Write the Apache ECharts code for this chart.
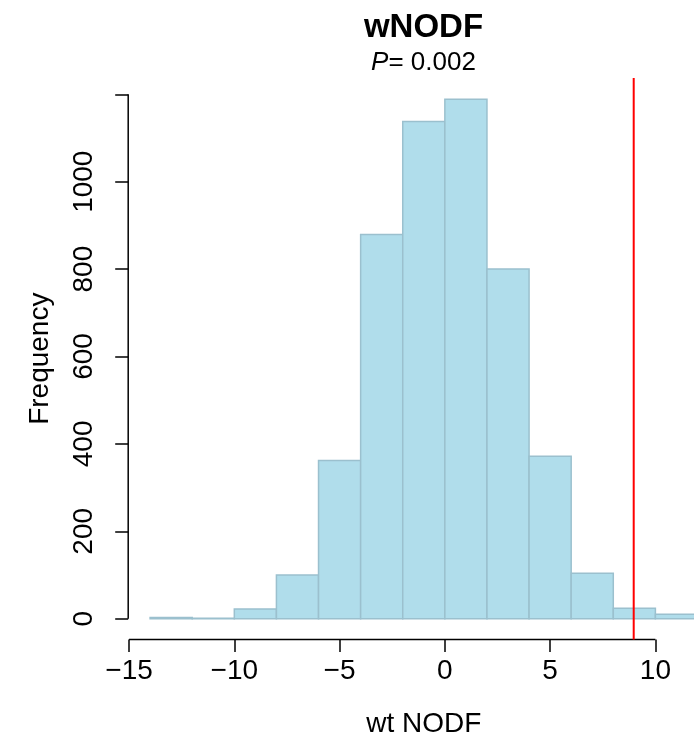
<!DOCTYPE html>
<html>
<head>
<meta charset="utf-8">
<script src="https://cdn.jsdelivr.net/npm/echarts@6/dist/echarts.min.js"></script>
<style>
html,body{margin:0;padding:0;background:#fff;}
#chart{width:694px;height:742px;}
</style>
</head>
<body>
<div id="chart"></div>
<script>
// ---- data ----
const titleText = 'wNODF';
const pValueText = '0.002';
const xTitle = 'wt NODF';
const yTitle = 'Frequency';
const binBreaks = [-14, -12, -10, -8, -6, -4, -2, 0, 2, 4, 6, 8, 10, 12];
const binCounts = [3, 1, 22, 100, 362, 879, 1138, 1189, 800, 372, 104, 24, 10];
const observedValue = 8.97;
const xTicks = [-15, -10, -5, 0, 5, 10];
const yTicks = [0, 200, 400, 600, 800, 1000, 1200];
const yTickLabels = [0, 200, 400, 600, 800, 1000];

// R-style axis ranges (4% extension)
const xMin = -15.04, xMax = 13.04;
const yMin = -47.6, yMax = 1237.6;

const FONT = 'Liberation Sans, Arial, Helvetica, sans-serif';
const chart = echarts.init(document.getElementById('chart'), null, {renderer: 'canvas'});

const histData = binCounts.map((c, i) => [binBreaks[i], binBreaks[i + 1], c]);

const option = {
  animation: false,
  backgroundColor: '#ffffff',
  graphic: [
    {type: 'text', style: {text: titleText, x: 423.5, y: 28, align: 'center', verticalAlign: 'middle',
      font: 'bold 33px ' + FONT, fill: '#000'}},
    {type: 'text', style: {text: '{i|P}{n|= ' + pValueText + '}', x: 423.5, y: 63, align: 'center', verticalAlign: 'middle',
      rich: {i: {fontStyle: 'italic', fontSize: 26, fontFamily: FONT, fill: '#000'}, n: {fontSize: 26, fontFamily: FONT, fill: '#000'}}}}
  ],
  grid: {left: 128.2, top: 77.9, width: 591.2, height: 561.6, containLabel: false, outerBoundsMode: 'none'},
  xAxis: {
    type: 'value', min: xMin, max: xMax,
    axisLine: {show: false, onZero: false},
    splitLine: {show: false},
    axisTick: {show: true, customValues: xTicks, length: 12.5, lineStyle: {color: '#000', width: 1.5}},
    axisLabel: {show: true, customValues: xTicks, margin: 18, fontSize: 28, fontFamily: FONT, color: '#000',
      formatter: v => String(v).replace('-', '\u2212')},
    name: xTitle, nameLocation: 'middle', nameGap: 71,
    nameTextStyle: {fontSize: 28, fontFamily: FONT, color: '#000'}
  },
  yAxis: {
    type: 'value', min: yMin, max: yMax,
    axisLine: {show: false, onZero: false},
    splitLine: {show: false},
    axisTick: {show: true, customValues: yTicks, length: 13, lineStyle: {color: '#000', width: 1.5}},
    axisLabel: {show: true, customValues: yTickLabels, rotate: 90, margin: 30, fontSize: 28, fontFamily: FONT, color: '#000',
      formatter: v => String(v)},
    name: yTitle, nameLocation: 'middle', nameGap: 74,
    nameTextStyle: {fontSize: 28, fontFamily: FONT, color: '#000'}
  },
  series: [
    {
      type: 'custom', clip: false, silent: true,
      data: histData,
      encode: {x: [0, 1], y: 2},
      renderItem: function (params, api) {
        const p0 = api.coord([api.value(0), api.value(2)]);
        const p1 = api.coord([api.value(1), 0]);
        return {
          type: 'rect',
          shape: {x: p0[0], y: p0[1], width: p1[0] - p0[0], height: p1[1] - p0[1]},
          style: {fill: '#B0DDEB', stroke: '#9BC0CE', lineWidth: 1.5}
        };
      }
    },
    {
      type: 'line', clip: false, silent: true, symbol: 'none',
      data: [[xTicks[0], yMin], [xTicks[xTicks.length - 1], yMin]],
      lineStyle: {color: '#000', width: 1.5}
    },
    {
      type: 'line', clip: false, silent: true, symbol: 'none',
      data: [[xMin, yTicks[0]], [xMin, yTicks[yTicks.length - 1]]],
      lineStyle: {color: '#000', width: 1.5}
    },
    {
      type: 'line', clip: false, silent: true, symbol: 'none',
      data: [[observedValue, yMin], [observedValue, yMax]],
      lineStyle: {color: '#FF0000', width: 2}
    }
  ]
};
chart.setOption(option);
</script>
</body>
</html>
